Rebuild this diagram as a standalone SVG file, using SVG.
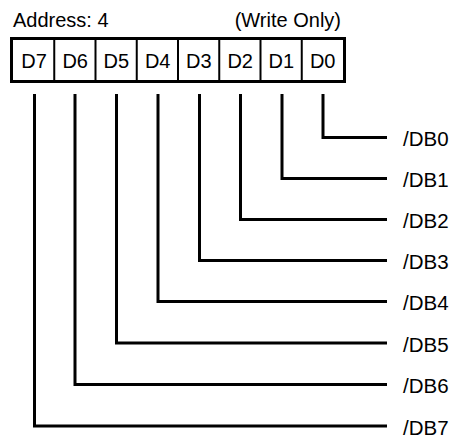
<svg xmlns="http://www.w3.org/2000/svg" width="455" height="438" viewBox="0 0 455 438">
<style>
text{font-family:"Liberation Sans",Arial,sans-serif;fill:#000}
.hdr{font-size:20px}
.cell{font-size:20px;text-anchor:middle}
.lbl{font-size:20.5px}
.wire{fill:none;stroke:#000;stroke-width:3;stroke-linejoin:miter;stroke-linecap:butt}
.div{stroke:#000;stroke-width:2}
</style>
<rect width="455" height="438" fill="#fff"/>
<g id="header">
<text class="hdr" x="13" y="27">Address: 4</text>
<text class="hdr" x="341" y="27" text-anchor="end">(Write Only)</text>
</g>
<g id="register">
<rect x="11.5" y="38.5" width="333" height="43" fill="#fff" stroke="#000" stroke-width="3"/>
<line class="div" x1="54.25" y1="40" x2="54.25" y2="81"/>
<line class="div" x1="95.5" y1="40" x2="95.5" y2="81"/>
<line class="div" x1="136.75" y1="40" x2="136.75" y2="81"/>
<line class="div" x1="178" y1="40" x2="178" y2="81"/>
<line class="div" x1="219.25" y1="40" x2="219.25" y2="81"/>
<line class="div" x1="260.5" y1="40" x2="260.5" y2="81"/>
<line class="div" x1="301.75" y1="40" x2="301.75" y2="81"/>
<g id="bit7"><text class="cell" x="34" y="67.5">D7</text></g>
<g id="bit6"><text class="cell" x="75.2" y="67.5">D6</text></g>
<g id="bit5"><text class="cell" x="116.4" y="67.5">D5</text></g>
<g id="bit4"><text class="cell" x="157.7" y="67.5">D4</text></g>
<g id="bit3"><text class="cell" x="198.9" y="67.5">D3</text></g>
<g id="bit2"><text class="cell" x="240.2" y="67.5">D2</text></g>
<g id="bit1"><text class="cell" x="281.4" y="67.5">D1</text></g>
<g id="bit0"><text class="cell" x="322.7" y="67.5">D0</text></g>
</g>
<g id="connectors">
<polyline class="wire" points="323,94 323,137.5 387,137.5"/>
<polyline class="wire" points="282,94 282,178.5 387,178.5"/>
<polyline class="wire" points="240.5,94 240.5,219.5 387,219.5"/>
<polyline class="wire" points="199.5,94 199.5,260.5 387,260.5"/>
<polyline class="wire" points="158,94 158,301.5 387,301.5"/>
<polyline class="wire" points="116.5,94 116.5,343 387,343"/>
<polyline class="wire" points="75,94 75,384.5 387,384.5"/>
<polyline class="wire" points="34.5,94 34.5,426 387,426"/>
</g>
<g id="labels">
<g id="DB0"><text class="lbl" x="403" y="146">/DB0</text></g>
<g id="DB1"><text class="lbl" x="403" y="187">/DB1</text></g>
<g id="DB2"><text class="lbl" x="403" y="228">/DB2</text></g>
<g id="DB3"><text class="lbl" x="403" y="269">/DB3</text></g>
<g id="DB4"><text class="lbl" x="403" y="310">/DB4</text></g>
<g id="DB5"><text class="lbl" x="403" y="351.5">/DB5</text></g>
<g id="DB6"><text class="lbl" x="403" y="393">/DB6</text></g>
<g id="DB7"><text class="lbl" x="403" y="434.5">/DB7</text></g>
</g>
</svg>
